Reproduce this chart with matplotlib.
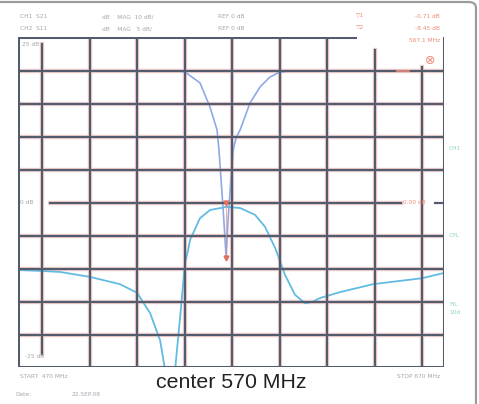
import matplotlib.pyplot as plt
from matplotlib.patches import FancyBboxPatch, Rectangle

# trace data (frequency in MHz, level in dB on the 5 dB/div screen scale)
s21_freq = [468.6, 480, 488.5, 502.7, 516.9, 525, 531.2, 535.9, 538.3, 540.2, 543.0, 545.4,
            547.7, 549.2, 550.1, 554.8, 559.6, 567.2, 573.8, 580.9, 585.6, 590.4, 595.1,
            599.8, 604.6, 607.9, 611.7, 621.2, 636.8, 649.6, 660, 670.4]
s21_db = [-10.15, -10.3, -10.45, -11.2, -12.3, -13.6, -16.7, -20.8, -25.3, -29.1, -25.3, -17.3,
          -9.1, -7.1, -5.6, -2.3, -1.06, -0.6, -0.76, -1.8, -3.6, -6.8, -10.9,
          -13.9, -15.2, -15.0, -14.4, -13.5, -12.3, -11.8, -11.4, -10.6]

s11_freq = [468.6, 545.4, 547.7, 554.8, 559.6, 562.9, 563.8, 565.7, 566.7, 567.2, 568.1,
            569.1, 570.5, 571.9, 573.8, 578.5, 583.3, 588.0, 592.7, 597.5, 670.4]
s11_db = [20.0, 20.0, 19.85, 18.2, 14.5, 11.06, 8.03, -0.6, -5.6, -8.33, -2.58,
          1.97, 8.03, 9.85, 11.06, 15.15, 17.6, 19.1, 19.85, 20.0, 20.0]

marker_freq = 567.2
marker_db = [0.0, -8.33]

grid_freq = [480, 502.5, 525, 547.5, 570, 592.5, 615, 637.5, 660]
grid_db = [-20, -15, -10, -5, 5, 10, 15, 20]

W, H = 479, 404
fig = plt.figure(figsize=(W / 100, H / 100), dpi=100)
fig.patch.set_facecolor("white")


def fx(x):
    return x / W


def fy(y):
    return 1 - y / H


ax = fig.add_axes([fx(18), fy(367), (444 - 18) / W, (367 - 37) / H])
ax.set_xlim(468.6, 670.4)
ax.set_ylim(-24.85, 25.15)
ax.axis("off")

gcol = "#525c6c"
pink = "#f7d2d2"

# grid: pink halo under dark lines
for f in grid_freq:
    top = 1.0
    if f == 637.5:
        top = 0.96
    if f == 660:
        top = 0.91
    lo = 0
    if f == 480:
        lo, top = 0.04, 0.98
    ax.axvline(f, lo, top, color=pink, lw=3.2, zorder=1)
    ax.axvline(f, lo, top, color=gcol, lw=1.6, zorder=2)
for d in grid_db:
    ax.axhline(d, color=pink, lw=3.2, zorder=1)
    ax.axhline(d, color=gcol, lw=1.6, zorder=2)

# border and reference lines
ax.axvline(468.6, color=gcol, lw=2.2, zorder=2)
ax.axvline(670.4, color=gcol, lw=2.2, zorder=2)
ax.axhline(-24.85, color=gcol, lw=2.2, zorder=2)
ax.axhline(25.15, 0, 0.79, color=gcol, lw=2.2, zorder=2)
ax.axhline(0, 0.075, 0.9, color=pink, lw=3.2, zorder=1)
ax.axhline(0, 0.075, 0.9, color=gcol, lw=1.6, zorder=2)
ax.axhline(0, 0.98, 1.0, color=gcol, lw=1.6, zorder=2)

# traces (grid is drawn over them, as on the printout)
ax.plot(s11_freq, s11_db, color="#8eaae6", lw=1.2, zorder=1.5)
ax.plot(s21_freq, s21_db, color="#62bbe2", lw=1.3, zorder=1.5)

# marker
ax.plot([marker_freq, marker_freq], marker_db, color="#e88a80", lw=0.8, alpha=0.7, zorder=4)
ax.plot([marker_freq] * 2, marker_db, "v", color="#e2705f", ms=3.5, zorder=5)
ax.plot([648, 654], [20, 20], color="#e88a80", lw=1.2, zorder=4)

gray = "#a2a6ad"
red = "#ec8a78"
cyan = "#8fd3c8"
fs = 4.2

# header
fig.text(fx(20), fy(17), "CH1  S21", color=gray, fontsize=fs, va="center")
fig.text(fx(20), fy(29), "CH2  S11", color=gray, fontsize=fs, va="center")
fig.text(fx(102), fy(17), "dB    MAG  10 dB/", color=gray, fontsize=fs, va="center")
fig.text(fx(102), fy(29), "dB    MAG   5 dB/", color=gray, fontsize=fs, va="center")
fig.text(fx(218), fy(17), "REF 0 dB", color=gray, fontsize=fs, va="center")
fig.text(fx(218), fy(29), "REF 0 dB", color=gray, fontsize=fs, va="center")
fig.text(fx(356), fy(15), "\u25bd1", color=red, fontsize=fs, va="center")
fig.text(fx(356), fy(27), "\u25bd2", color=red, fontsize=fs, va="center")
fig.text(fx(440), fy(17), "-0.71 dB", color=red, fontsize=fs, va="center", ha="right")
fig.text(fx(440), fy(29), "-8.45 dB", color=red, fontsize=fs, va="center", ha="right")
fig.text(fx(440), fy(41), "567.1 MHz", color=red, fontsize=fs, va="center", ha="right")
fig.text(fx(430), fy(60), "\u2297", color=red, fontsize=9, va="center", ha="center")

# scale labels
fig.text(fx(22), fy(45), "25 dB", color=gray, fontsize=fs, va="center")
fig.text(fx(20), fy(203), "0 dB", color=gray, fontsize=fs, va="center")
fig.text(fx(25), fy(357), "-25 dB", color=gray, fontsize=fs, va="center")
fig.text(fx(403), fy(203), "0.00 dB", color=red, fontsize=fs, va="center")

# right side channel labels
fig.text(fx(449), fy(148), "CH1", color=cyan, fontsize=fs, va="center")
fig.text(fx(449), fy(236), "CPL", color=cyan, fontsize=fs, va="center")
fig.text(fx(449), fy(304), "FIL", color=cyan, fontsize=fs, va="center")
fig.text(fx(449), fy(312), "10d", color=cyan, fontsize=fs, va="center")

# footer
fig.text(fx(20), fy(377), "START  470 MHz", color=gray, fontsize=fs, va="center")
fig.text(fx(440), fy(377), "STOP 670 MHz", color=gray, fontsize=fs, va="center", ha="right")
fig.text(fx(15), fy(394), "Date:", color=gray, fontsize=fs, va="center")
fig.text(fx(72), fy(394), "22.SEP.08", color=gray, fontsize=fs, va="center")

# white label box with the centre frequency
fig.patches.append(Rectangle((fx(132), fy(398)), (333 - 132) / W, (398 - 371) / H,
                             transform=fig.transFigure, facecolor="white", edgecolor="none", zorder=5))
fig.text(fx(231), fy(382), "center 570 MHz", color="#222222", fontsize=15.3,
         family="Liberation Sans", ha="center", va="center", zorder=6)

# outer frame (top and right edges with rounded corner)
fig.patches.append(FancyBboxPatch((fx(-20), fy(430)), (496) / W, (428) / H,
                                  boxstyle="round,pad=0,rounding_size=0.015",
                                  transform=fig.transFigure, facecolor="none",
                                  edgecolor="#9c9c9c", lw=1.6, zorder=7))

fig.savefig("out.png", dpi=100)
